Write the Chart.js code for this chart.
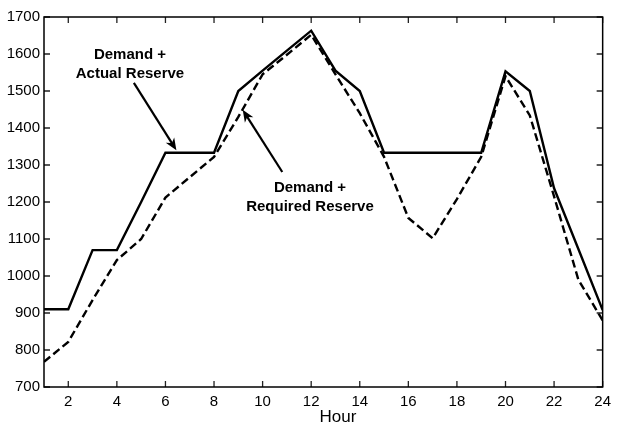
<!DOCTYPE html>
<html>
<head>
<meta charset="utf-8">
<script src="https://cdn.jsdelivr.net/npm/chart.js@4/dist/chart.umd.min.js"></script>
<style>
  html, body { margin: 0; padding: 0; background: #fff; }
  #wrap { width: 617px; height: 429px; }
</style>
</head>
<body>
<div id="wrap"><canvas id="c"></canvas></div>
<script>
// data
const hours = [1, 2, 3, 4, 5, 6, 7, 8, 9, 10, 11, 12, 13, 14, 15, 16, 17, 18, 19, 20, 21, 22, 23, 24];
const actualReserve = [910, 910, 1070, 1070, 1200, 1333, 1333, 1333, 1500, 1555, 1609, 1663, 1555, 1500, 1333, 1333, 1333, 1333, 1333, 1553, 1500, 1237, 1073, 908];
const requiredReserve = [768, 822, 935, 1043, 1100, 1212, 1267, 1322, 1430, 1545, 1598, 1652, 1545, 1440, 1322, 1157, 1102, 1208, 1322, 1540, 1434, 1215, 990, 880];
const yTicks = [700, 800, 900, 1000, 1100, 1200, 1300, 1400, 1500, 1600, 1700];

const FONT = '"Liberation Sans", Arial, sans-serif';

/* ---------- annotations (in data units) ---------- */
const notes = [
  { lines: ['Demand +', 'Actual Reserve'], x: 4.54, y: [1586, 1535], from: [4.70, 1522], to: [6.45, 1340] },
  { lines: ['Demand +', 'Required Reserve'], x: 11.95, y: [1227, 1176], from: [10.81, 1281], to: [9.18, 1449] }
];

const framePlugin = {
  id: 'frame',
  afterDraw(chart) {
    const { ctx, chartArea: a, scales: { x, y } } = chart;
    ctx.save();
    // inward ticks on all four sides
    ctx.strokeStyle = '#222';
    ctx.lineWidth = 1.3;
    const len = 6;
    x.ticks.forEach(t => {
      const px = x.getPixelForValue(t.value);
      ctx.beginPath();
      ctx.moveTo(px, a.bottom); ctx.lineTo(px, a.bottom - len);
      ctx.moveTo(px, a.top); ctx.lineTo(px, a.top + len);
      ctx.stroke();
    });
    y.ticks.forEach(t => {
      const py = y.getPixelForValue(t.value);
      ctx.beginPath();
      ctx.moveTo(a.left, py); ctx.lineTo(a.left + len, py);
      ctx.moveTo(a.right, py); ctx.lineTo(a.right - len, py);
      ctx.stroke();
    });
    // box
    ctx.strokeStyle = '#000';
    ctx.lineWidth = 1.5;
    ctx.strokeRect(a.left, a.top, a.right - a.left, a.bottom - a.top);

    // notes + arrows
    ctx.fillStyle = '#000';
    ctx.font = 'bold 15px ' + FONT;
    ctx.textAlign = 'center';
    ctx.textBaseline = 'alphabetic';
    notes.forEach(n => {
      n.lines.forEach((s, i) => ctx.fillText(s, x.getPixelForValue(n.x), y.getPixelForValue(n.y[i])));
      const x0 = x.getPixelForValue(n.from[0]), y0 = y.getPixelForValue(n.from[1]);
      const x1 = x.getPixelForValue(n.to[0]), y1 = y.getPixelForValue(n.to[1]);
      const ang = Math.atan2(y1 - y0, x1 - x0);
      const hl = 12, hw = 5;
      ctx.lineWidth = 2.2;
      ctx.beginPath();
      ctx.moveTo(x0, y0);
      ctx.lineTo(x1 - Math.cos(ang) * hl * 0.7, y1 - Math.sin(ang) * hl * 0.7);
      ctx.stroke();
      ctx.beginPath();
      ctx.moveTo(x1, y1);
      ctx.lineTo(x1 - Math.cos(ang) * hl - Math.sin(ang) * hw, y1 - Math.sin(ang) * hl + Math.cos(ang) * hw);
      ctx.lineTo(x1 - Math.cos(ang) * hl * 0.7, y1 - Math.sin(ang) * hl * 0.7);
      ctx.lineTo(x1 - Math.cos(ang) * hl + Math.sin(ang) * hw, y1 - Math.sin(ang) * hl - Math.cos(ang) * hw);
      ctx.closePath();
      ctx.fill();
    });

    // axis title "Hour"
    ctx.font = '17px ' + FONT;
    ctx.textBaseline = 'alphabetic';
    ctx.fillText('Hour', x.getPixelForValue(13.1), a.bottom + 35);
    ctx.restore();
  }
};

new Chart(document.getElementById('c'), {
  type: 'line',
  data: {
    datasets: [
      {
        label: 'Demand + Actual Reserve',
        data: hours.map((h, i) => ({ x: h, y: actualReserve[i] })),
        borderColor: '#000', borderWidth: 2.4, pointRadius: 0, tension: 0, fill: false
      },
      {
        label: 'Demand + Required Reserve',
        data: hours.map((h, i) => ({ x: h, y: requiredReserve[i] })),
        borderColor: '#000', borderWidth: 2.4, borderDash: [8, 4], pointRadius: 0, tension: 0, fill: false
      }
    ]
  },
  options: {
    responsive: true,
    maintainAspectRatio: false,
    animation: false,
    layout: { padding: { top: 17, right: 8, left: 0, bottom: 0 } },
    plugins: { legend: { display: false }, tooltip: { enabled: false } },
    scales: {
      x: {
        type: 'linear', min: 1, max: 24,
        grid: { display: false, drawTicks: false },
        border: { display: false },
        ticks: { stepSize: 2, includeBounds: false, padding: 6, color: '#000', font: { family: FONT, size: 15 } },
        afterFit: s => { s.height = 42; }
      },
      y: {
        min: 700, max: 1700,
        afterBuildTicks: s => { s.ticks = yTicks.map(v => ({ value: v })); },
        grid: { display: false, drawTicks: false },
        border: { display: false },
        ticks: { padding: 4, color: '#000', font: { family: FONT, size: 15 }, callback: v => String(v) },
        afterFit: s => { s.width = 44; }
      }
    }
  },
  plugins: [framePlugin]
});
</script>
</body>
</html>
